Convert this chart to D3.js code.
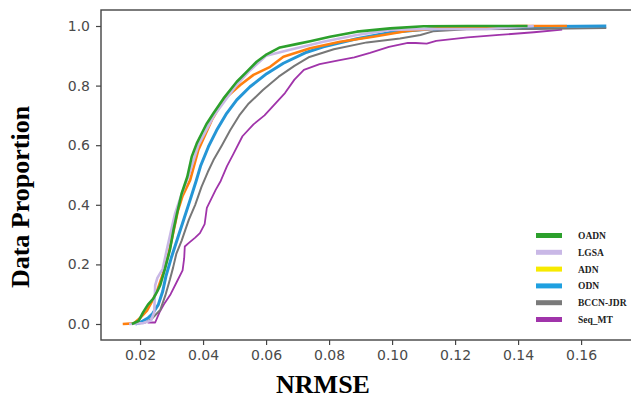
<!DOCTYPE html>
<html>
<head>
<meta charset="utf-8">
<script src="https://cdn.jsdelivr.net/npm/d3@7"></script>
<style>
  html, body { margin: 0; padding: 0; background: #fff; }
  svg { display: block; }
</style>
</head>
<body>
<svg id="chart" width="631" height="400"></svg>
<script>
// ---- data (NRMSE, cumulative proportion) ----
const seriesNames = ["OADN", "LGSA", "ADN", "ODN", "BCCN-JDR", "Seq_MT"];
const xTicks = [0.02, 0.04, 0.06, 0.08, 0.10, 0.12, 0.14, 0.16];
const yTicks = [0.0, 0.2, 0.4, 0.6, 0.8, 1.0];

const oadn = [[0.0174,0],[0.0195,0.01],[0.0210,0.04],[0.0225,0.065],[0.0242,0.085],[0.0255,0.11],[0.0264,0.13],[0.0279,0.185],[0.0295,0.25],[0.0306,0.315],[0.0317,0.37],[0.0332,0.438],[0.0350,0.494],[0.0364,0.561],[0.0380,0.606],[0.0396,0.64],[0.0412,0.673],[0.0433,0.707],[0.0465,0.757],[0.0507,0.813],[0.0539,0.847],[0.0570,0.88],[0.0602,0.905],[0.0644,0.928],[0.0700,0.94],[0.0740,0.949],[0.0803,0.964],[0.0888,0.981],[0.0994,0.992],[0.1100,0.999],[0.1240,1.0],[0.1430,1.0]];
const lgsa = [[0.0165,0],[0.0210,0.003],[0.0235,0.012],[0.0245,0.04],[0.0248,0.13],[0.0255,0.155],[0.0272,0.185],[0.0285,0.25],[0.0300,0.32],[0.0311,0.37],[0.0330,0.43],[0.0355,0.5],[0.0385,0.6],[0.0435,0.7],[0.0505,0.8],[0.0548,0.85],[0.0600,0.9],[0.0676,0.92],[0.0782,0.947],[0.0888,0.97],[0.0994,0.987],[0.1120,0.99],[0.1300,0.99],[0.1450,1.0]];
const adn = [[0.0145,0],[0.0180,0.002],[0.0200,0.02],[0.0222,0.045],[0.0240,0.08],[0.0257,0.12],[0.0273,0.17],[0.0288,0.225],[0.0300,0.28],[0.0310,0.33],[0.0320,0.38],[0.0335,0.43],[0.0359,0.483],[0.0385,0.584],[0.0428,0.685],[0.0465,0.752],[0.0518,0.802],[0.0560,0.836],[0.0613,0.863],[0.0655,0.897],[0.0740,0.925],[0.0835,0.947],[0.0940,0.964],[0.1047,0.983],[0.1152,0.993],[0.1300,0.997],[0.1400,1.0],[0.1555,1.0]];
const odn = [[0.0185,0],[0.0200,0.005],[0.0225,0.02],[0.0240,0.035],[0.0258,0.065],[0.0272,0.11],[0.0282,0.16],[0.0300,0.225],[0.0320,0.29],[0.0340,0.355],[0.0360,0.42],[0.0378,0.48],[0.0392,0.53],[0.0417,0.595],[0.0443,0.65],[0.0475,0.707],[0.0507,0.752],[0.0549,0.796],[0.0602,0.84],[0.0655,0.875],[0.0729,0.912],[0.0782,0.93],[0.0888,0.957],[0.0994,0.978],[0.1120,0.99],[0.1300,0.996],[0.1500,0.998],[0.1680,1.0]];
const bccn = [[0.0185,0],[0.0215,0.005],[0.0235,0.015],[0.0264,0.047],[0.0280,0.095],[0.0295,0.15],[0.0305,0.19],[0.0315,0.235],[0.0332,0.28],[0.0345,0.32],[0.0355,0.35],[0.0375,0.40],[0.0395,0.46],[0.0415,0.51],[0.0433,0.55],[0.0460,0.60],[0.0486,0.65],[0.0515,0.70],[0.0545,0.74],[0.0590,0.785],[0.0640,0.83],[0.0690,0.866],[0.0735,0.895],[0.0815,0.922],[0.0920,0.945],[0.1025,0.958],[0.1090,0.970],[0.1130,0.982],[0.1237,0.989],[0.1450,0.990],[0.1680,0.993]];
const seqmt = [[0.0224,0.005],[0.0248,0.005],[0.0262,0.04],[0.0278,0.07],[0.0297,0.10],[0.0316,0.14],[0.0335,0.18],[0.0340,0.22],[0.0342,0.26],[0.0355,0.272],[0.0375,0.29],[0.0390,0.305],[0.0405,0.335],[0.0412,0.39],[0.0440,0.45],[0.0456,0.48],[0.0476,0.53],[0.0496,0.57],[0.0525,0.63],[0.0560,0.67],[0.0595,0.70],[0.0630,0.74],[0.0660,0.775],[0.0690,0.82],[0.0720,0.853],[0.0770,0.872],[0.0830,0.885],[0.0880,0.895],[0.0930,0.910],[0.0990,0.930],[0.1050,0.943],[0.1075,0.943],[0.1110,0.941],[0.1140,0.950],[0.1190,0.956],[0.1240,0.962],[0.1340,0.970],[0.1450,0.979],[0.1540,0.988]];

const seriesData = [oadn, lgsa, adn, odn, bccn, seqmt];
const lineColors   = ["#2ca02c", "#c9b8e6", "#ff7f0e", "#2596d6", "#777777", "#a034aa"];
const legendColors = ["#2ca02c", "#c9b8e6", "#f7ea00", "#1fa0e0", "#7a7a7a", "#a034aa"];
const lineWidths   = [2.6, 2.6, 2.6, 3.0, 2.0, 1.8];

// ---- layout ----
const svg = d3.select("#chart");
const L = 101, T = 10, R = 640, B = 340;
const x = d3.scaleLinear().domain([0.0076, 0.1787]).range([L, R]);
const y = d3.scaleLinear().domain([-0.0537, 1.0537]).range([B, T]);

const plot = svg.append("g");
svg.append("clipPath").attr("id", "clip")
  .append("rect").attr("x", L).attr("y", T).attr("width", R - L).attr("height", B - T);

const line = d3.line().x(d => x(d[0])).y(d => y(d[1]));
const drawOrder = [5, 4, 3, 2, 1, 0];
drawOrder.forEach(i => {
  plot.append("path")
    .attr("d", line(seriesData[i]))
    .attr("fill", "none")
    .attr("stroke", lineColors[i])
    .attr("stroke-width", lineWidths[i])
    .attr("stroke-linejoin", "round")
    .attr("clip-path", "url(#clip)");
});

// frame
svg.append("rect").attr("x", L).attr("y", T).attr("width", R - L).attr("height", B - T)
  .attr("fill", "none").attr("stroke", "#444").attr("stroke-width", 1.4);

// axes
const xAxis = d3.axisBottom(x).tickValues(xTicks).tickFormat(d3.format(".2f")).tickSize(5).tickPadding(5);
const yAxis = d3.axisLeft(y).tickValues(yTicks).tickFormat(d3.format(".1f")).tickSize(5).tickPadding(6);
const gx = svg.append("g").attr("transform", `translate(0,${B})`).call(xAxis);
const gy = svg.append("g").attr("transform", `translate(${L},0)`).call(yAxis);
[gx, gy].forEach(g => {
  g.select(".domain").remove();
  g.selectAll(".tick line").attr("stroke", "#444").attr("stroke-width", 1.2);
  g.selectAll(".tick text").attr("fill", "#4a4a4a")
    .style("font-family", "'DejaVu Sans', sans-serif").style("font-size", "14px");
});

// axis titles
svg.append("text").attr("x", 323).attr("y", 393).attr("text-anchor", "middle")
  .style("font-family", "'Liberation Serif', 'Times New Roman', serif")
  .style("font-weight", "bold").style("font-size", "26px").attr("fill", "#000")
  .text("NRMSE");
svg.append("text").attr("transform", "translate(29,197) rotate(-90)").attr("text-anchor", "middle")
  .style("font-family", "'Liberation Serif', 'Times New Roman', serif")
  .style("font-weight", "bold").style("font-size", "26px").attr("fill", "#000")
  .text("Data Proportion");

// legend
const lg = svg.append("g").attr("transform", "translate(536,235.5)");
seriesNames.forEach((name, i) => {
  const row = lg.append("g").attr("transform", `translate(0,${i * 16.8})`);
  row.append("line").attr("x1", 0).attr("x2", 26).attr("y1", 0).attr("y2", 0)
    .attr("stroke", legendColors[i]).attr("stroke-width", 5);
  row.append("text").attr("x", 42).attr("y", 3.5)
    .style("font-family", "'Liberation Serif', 'Times New Roman', serif")
    .style("font-weight", "bold").style("font-size", "9.5px").attr("fill", "#222")
    .text(name);
});
</script>
</body>
</html>
